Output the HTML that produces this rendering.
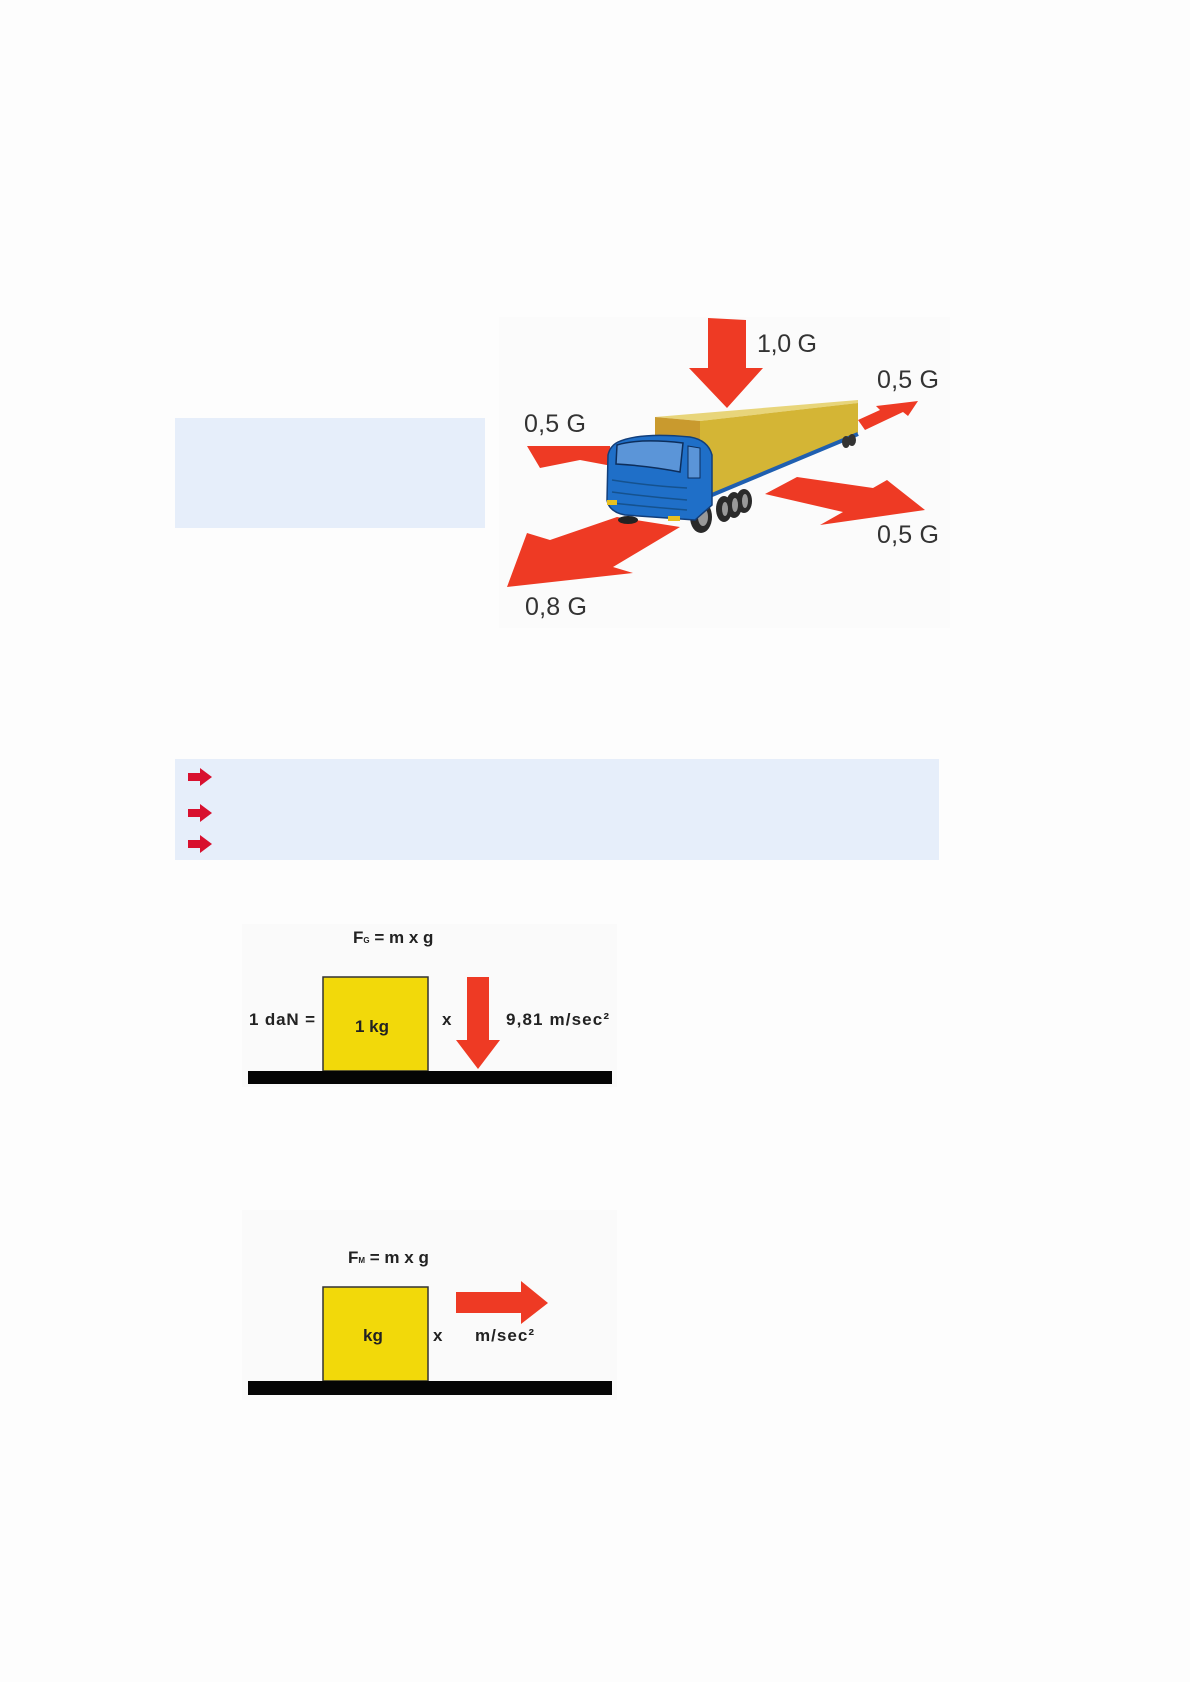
<!DOCTYPE html>
<html><head><meta charset="utf-8"><style>
html,body{margin:0;padding:0;background:#fdfdfd;}
svg{display:block;}
text{font-family:"Liberation Sans",sans-serif;}
</style></head><body>
<svg width="1190" height="1682" viewBox="0 0 1190 1682" xmlns="http://www.w3.org/2000/svg">
<rect width="1190" height="1682" fill="#fdfdfd"/>
<rect x="175" y="418" width="310" height="110" fill="#e6eefa"/>
<rect x="499" y="317" width="451" height="311" fill="#fbfbfb"/>
<g fill="#ee3a24">
<polygon points="708,318 746,320 746,368 763,368 727,408 689,368 708,368"/>
<polygon points="527,446 610,446 612,466 580,460 540,468"/>
<polygon points="858,420 880,410 876,406 918,401 908,416 903,412 865,430"/>
<polygon points="765,494 797,477 873,488 887,480 925,510 820,525 843,512"/>
<polygon points="617,517 680,527 613,567 633,573 507,587 527,533 550,540"/>
</g>
<polygon points="655,417 858,400 858,403 700,421" fill="#e8d57a"/>
<polygon points="700,421 858,403 858,433 700,500" fill="#d4b535"/>
<polygon points="655,417 700,421 700,500 655,497" fill="#c99a2e"/>
<line x1="700" y1="500" x2="858" y2="434" stroke="#1f5fb0" stroke-width="4"/>
<g fill="#333"><ellipse cx="846" cy="442" rx="4" ry="6"/><ellipse cx="852" cy="440" rx="4" ry="6"/></g>
<g fill="#2a2a2a">
<ellipse cx="701" cy="517" rx="11" ry="16"/>
<ellipse cx="724" cy="509" rx="8" ry="13"/>
<ellipse cx="734" cy="505" rx="8" ry="13"/>
<ellipse cx="744" cy="501" rx="8" ry="12"/>
</g>
<g fill="#999"><ellipse cx="703" cy="517" rx="5" ry="9"/><ellipse cx="725" cy="509" rx="3" ry="7"/><ellipse cx="735" cy="505" rx="3" ry="7"/><ellipse cx="745" cy="501" rx="3" ry="7"/></g>
<path d="M618,442 Q640,432 690,437 Q708,440 712,455 L712,505 L695,520 L625,515 Q609,512 607,500 L608,455 Q610,446 618,442 Z" fill="#1f6fc8" stroke="#123e7a" stroke-width="1.5"/>
<path d="M617,445 Q640,438 683,443 L680,472 Q650,466 616,464 Z" fill="#5b95d8" stroke="#0d2e5c" stroke-width="1.5"/>
<path d="M688,446 L700,448 L700,478 L688,478 Z" fill="#5b95d8" stroke="#0d2e5c" stroke-width="1"/>
<g stroke="#15528f" stroke-width="1.5" fill="none"><path d="M612,480 Q650,486 687,488"/><path d="M612,492 Q650,497 687,500"/><path d="M612,503 Q650,507 687,510"/></g>
<rect x="607" y="500" width="10" height="5" fill="#e8c020"/>
<rect x="668" y="516" width="12" height="5" fill="#e8c020"/>
<ellipse cx="628" cy="520" rx="10" ry="4" fill="#222"/>
<g font-size="25" fill="#333">
<text x="757" y="352" textLength="60">1,0 G</text>
<text x="877" y="388" textLength="62">0,5 G</text>
<text x="524" y="432" textLength="62">0,5 G</text>
<text x="877" y="543" textLength="62">0,5 G</text>
<text x="525" y="615" textLength="62">0,8 G</text>
</g>
<rect x="175" y="759" width="764" height="101" fill="#e6eefa"/>
<g fill="#d8102e">
<polygon points="188,773 200,773 200,768 212,777 200,786 200,781 188,781"/>
<polygon points="188,809 200,809 200,804 212,813 200,822 200,817 188,817"/>
<polygon points="188,840 200,840 200,835 212,844 200,853 200,848 188,848"/>
</g>
<rect x="242" y="924" width="375" height="163" fill="#fafafa"/>
<text x="353" y="943" font-size="17" font-weight="bold" fill="#222">F<tspan font-size="8">G</tspan> = m x g</text>
<rect x="323" y="977" width="105" height="94" fill="#f2d90a" stroke="#333" stroke-width="1.5"/>
<rect x="248" y="1071" width="364" height="13" fill="#050505"/>
<polygon points="467,977 489,977 489,1040 500,1040 478,1069 456,1040 467,1040" fill="#ee3a24"/>
<g font-size="17" font-weight="bold" fill="#222">
<text x="249" y="1025" textLength="66">1 daN =</text>
<text x="355" y="1032">1 kg</text>
<text x="442" y="1025">x</text>
<text x="506" y="1025" textLength="103">9,81 m/sec²</text>
</g>
<rect x="242" y="1210" width="375" height="190" fill="#fafafa"/>
<text x="348" y="1263" font-size="17" font-weight="bold" fill="#222">F<tspan font-size="8">M</tspan> = m x g</text>
<rect x="323" y="1287" width="105" height="94" fill="#f2d90a" stroke="#333" stroke-width="1.5"/>
<rect x="248" y="1381" width="364" height="14" fill="#050505"/>
<polygon points="456,1292 521,1292 521,1281 548,1303 521,1324 521,1313 456,1313" fill="#ee3a24"/>
<g font-size="17" font-weight="bold" fill="#222">
<text x="363" y="1341">kg</text>
<text x="433" y="1341">x</text>
<text x="475" y="1341" textLength="59">m/sec²</text>
</g>
</svg>
</body></html>
